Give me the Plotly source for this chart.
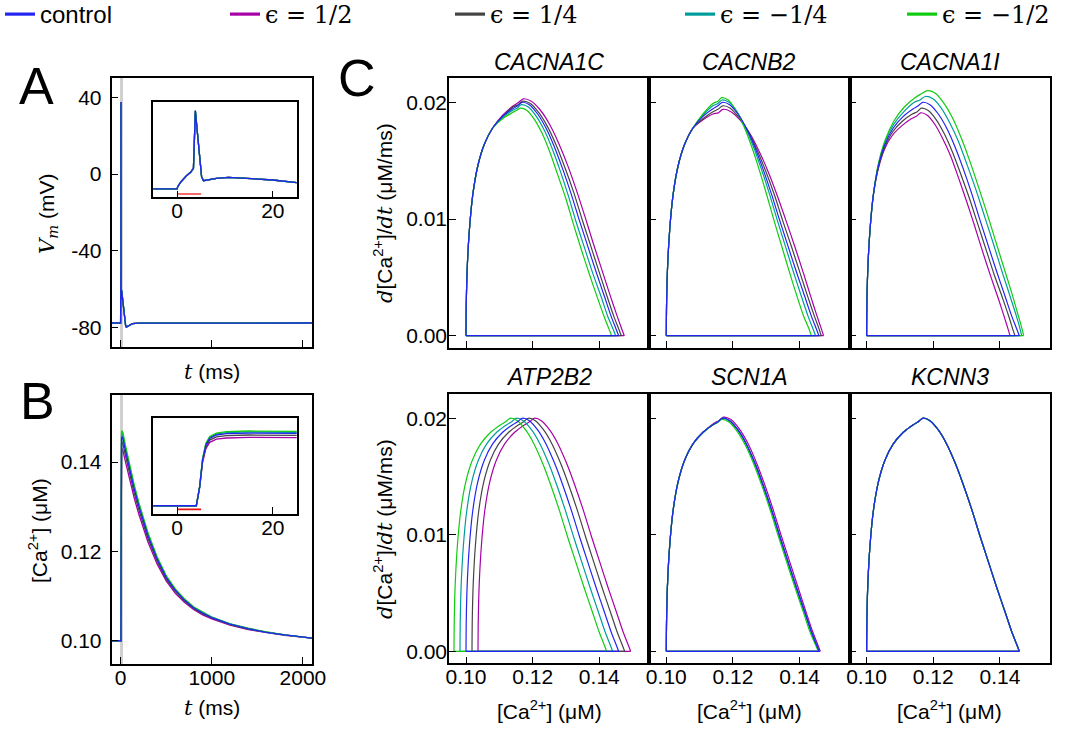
import plotly.graph_objects as go

W, H = 1078, 731

# ---------------- series ----------------
series_keys = ["half", "quarter", "mquarter", "mhalf", "control"]  # drawing order (control on top)
series_names = {
    "control": "control",
    "half": '<span style="font-family:DejaVu Serif">ϵ = 1/2</span>',
    "quarter": '<span style="font-family:DejaVu Serif">ϵ = 1/4</span>',
    "mquarter": '<span style="font-family:DejaVu Serif">ϵ = −1/4</span>',
    "mhalf": '<span style="font-family:DejaVu Serif">ϵ = −1/2</span>',
}
series_colors = {
    "control": "#2424f0",
    "half": "#a800a8",
    "quarter": "#444444",
    "mquarter": "#009c9c",
    "mhalf": "#10cc10",
}

# ---------------- panel A: membrane potential ----------------
volt_t = [-100, 0, 0.1, 0.8, 1.9, 2.9, 3.4, 3.8, 4.2, 4.55, 5.1, 5.5, 6.4, 8.2, 10.7, 14.5,
          20, 25, 35, 45, 55, 63, 80, 100, 130, 200, 1000, 2100]
volt_v = [-77.5, -77.5, -74.4, -67, -58.6, -52.3, -47.3, 37.5, 7, -20.3, -59.6, -65.5, -64.5, -62,
          -60.5, -62, -64.5, -68.5, -73, -76.5, -78.8, -79.6, -79.2, -78.5, -77.8, -77.6, -77.5, -77.5]

# ---------------- panel B: calcium concentration ----------------
ca_t = [-100, 0, 4, 4.7, 5.3, 6, 6.8, 8.2, 10.3, 15, 25, 50, 100, 150, 200, 250, 300, 400, 500,
        600, 700, 800, 900, 1000, 1200, 1400, 1600, 1800, 2000, 2100]
ca_control = [0.1000, 0.1000, 0.1000, 0.1120, 0.1287, 0.1382, 0.1424, 0.1445, 0.1453, 0.1457, 0.1453,
              0.1428, 0.1381, 0.1339, 0.1301, 0.1266, 0.1235, 0.1183, 0.1142, 0.1113, 0.1091, 0.1074,
              0.1062, 0.1052, 0.1037, 0.1027, 0.1019, 0.1013, 0.1008, 0.1006]
ca_half = [0.1000, 0.1000, 0.1000, 0.1113, 0.1270, 0.1359, 0.1399, 0.1419, 0.1426, 0.1430, 0.1426,
           0.1403, 0.1359, 0.1319, 0.1283, 0.1250, 0.1221, 0.1172, 0.1134, 0.1106, 0.1086, 0.1070,
           0.1058, 0.1049, 0.1035, 0.1025, 0.1018, 0.1012, 0.1008, 0.1006]
ca_quarter = [0.1000, 0.1000, 0.1000, 0.1117, 0.1280, 0.1372, 0.1413, 0.1433, 0.1441, 0.1445, 0.1441,
              0.1417, 0.1371, 0.1330, 0.1293, 0.1259, 0.1229, 0.1178, 0.1138, 0.1110, 0.1089, 0.1072,
              0.1060, 0.1051, 0.1036, 0.1026, 0.1019, 0.1013, 0.1008, 0.1006]
ca_mquarter = [0.1000, 0.1000, 0.1000, 0.1122, 0.1291, 0.1388, 0.1430, 0.1452, 0.1460, 0.1464, 0.1460,
               0.1434, 0.1387, 0.1344, 0.1306, 0.1270, 0.1239, 0.1186, 0.1144, 0.1115, 0.1092, 0.1075,
               0.1063, 0.1053, 0.1038, 0.1027, 0.1019, 0.1013, 0.1008, 0.1006]
ca_mhalf = [0.1000, 0.1000, 0.1000, 0.1123, 0.1295, 0.1393, 0.1436, 0.1457, 0.1466, 0.1470, 0.1466,
            0.1440, 0.1392, 0.1348, 0.1309, 0.1273, 0.1242, 0.1188, 0.1146, 0.1116, 0.1094, 0.1076,
            0.1064, 0.1053, 0.1038, 0.1028, 0.1020, 0.1013, 0.1008, 0.1006]
ca_series = {"control": ca_control, "half": ca_half, "quarter": ca_quarter,
             "mquarter": ca_mquarter, "mhalf": ca_mhalf}

stim_t = [0, 5]
stim_v = [-85, -85]
stim_ca = [0.0977, 0.0977]

# ---------------- panel C: phase plots (d[Ca]/dt vs [Ca]) ----------------
gene_titles = ["CACNA1C", "CACNB2", "CACNA1I", "ATP2B2", "SCN1A", "KCNN3"]

# shared rising branch (all series overlap here)
rise_x = [0.1000, 0.1001, 0.1004, 0.1010, 0.1020, 0.1035, 0.1055, 0.1080]
rise_y = [0.0000, 0.0030, 0.0060, 0.0090, 0.0120, 0.0145, 0.0164, 0.0178]

ctrl_fall_x = [0.1110, 0.1140, 0.1155, 0.1168, 0.1190, 0.1215, 0.1240, 0.1265, 0.1290, 0.1315, 0.1340,
               0.1365, 0.1390, 0.1415, 0.1435, 0.1450, 0.1458]
ctrl_fall_y = [0.0188, 0.01945, 0.0197, 0.0200, 0.0198, 0.0190, 0.0178, 0.0162, 0.0143, 0.0122, 0.0099,
               0.0077, 0.0055, 0.0034, 0.0017, 0.0006, 0.0000]

# CACNA1C
c1c_half_x = [0.1110, 0.1142, 0.1158, 0.1172, 0.1196, 0.1224, 0.1251, 0.1278, 0.1305, 0.1331, 0.1357,
              0.1382, 0.1407, 0.1432, 0.1452, 0.1467, 0.1475]
c1c_half_y = [0.0189, 0.0197, 0.0200, 0.0203, 0.0201, 0.0193, 0.0181, 0.0165, 0.0146, 0.0125, 0.0102,
              0.0079, 0.0057, 0.0035, 0.0018, 0.0006, 0.0000]
c1c_quarter_x = [0.1110, 0.1141, 0.1156, 0.1170, 0.1193, 0.1219, 0.1245, 0.1271, 0.1297, 0.1323, 0.1348,
                 0.1373, 0.1398, 0.1423, 0.1443, 0.1458, 0.1466]
c1c_quarter_y = [0.0188, 0.0196, 0.0198, 0.0201, 0.0199, 0.0191, 0.0179, 0.0163, 0.0144, 0.0123, 0.0100,
                 0.0078, 0.0056, 0.0034, 0.0017, 0.0006, 0.0000]
c1c_mquarter_x = [0.1110, 0.1139, 0.1153, 0.1166, 0.1187, 0.1211, 0.1235, 0.1259, 0.1283, 0.1307, 0.1331,
                  0.1356, 0.1381, 0.1406, 0.1426, 0.1441, 0.1449]
c1c_mquarter_y = [0.0187, 0.0193, 0.0195, 0.0198, 0.0196, 0.0188, 0.0176, 0.0160, 0.0141, 0.0120, 0.0097,
                  0.0075, 0.0053, 0.0033, 0.0016, 0.0006, 0.0000]
c1c_mhalf_x = [0.1110, 0.1138, 0.1151, 0.1163, 0.1183, 0.1206, 0.1229, 0.1252, 0.1275, 0.1299, 0.1323,
               0.1347, 0.1371, 0.1395, 0.1415, 0.1430, 0.1437]
c1c_mhalf_y = [0.0186, 0.0191, 0.0193, 0.0195, 0.0193, 0.0185, 0.0173, 0.0157, 0.0138, 0.0118, 0.0095,
               0.0073, 0.0052, 0.0032, 0.0016, 0.0005, 0.0000]

# CACNB2
cb2_half_x = [0.1110, 0.1140, 0.1156, 0.1170, 0.1194, 0.1221, 0.1249, 0.1277, 0.1305, 0.1333, 0.1360,
              0.1386, 0.1411, 0.1434, 0.1452, 0.1465, 0.1472]
cb2_half_y = [0.0185, 0.0190, 0.0191, 0.0194, 0.0192, 0.0185, 0.0174, 0.0159, 0.0141, 0.0120, 0.0098,
              0.0076, 0.0054, 0.0033, 0.0017, 0.0006, 0.0000]
cb2_quarter_x = [0.1110, 0.1140, 0.1155, 0.1169, 0.1192, 0.1218, 0.1244, 0.1271, 0.1297, 0.1324, 0.1350,
                 0.1376, 0.1401, 0.1425, 0.1444, 0.1458, 0.1465]
cb2_quarter_y = [0.0186, 0.0192, 0.0194, 0.0197, 0.0195, 0.0187, 0.0176, 0.0160, 0.0142, 0.0121, 0.0098,
                 0.0076, 0.0054, 0.0033, 0.0017, 0.0006, 0.0000]
cb2_mquarter_x = [0.1110, 0.1140, 0.1155, 0.1167, 0.1188, 0.1212, 0.1236, 0.1260, 0.1285, 0.1309, 0.1333,
                  0.1357, 0.1381, 0.1405, 0.1425, 0.1440, 0.1448]
cb2_mquarter_y = [0.0189, 0.0197, 0.0199, 0.0202, 0.0200, 0.0192, 0.0179, 0.0163, 0.0143, 0.0122, 0.0099,
                  0.0077, 0.0055, 0.0034, 0.0017, 0.0006, 0.0000]
cb2_mhalf_x = [0.1110, 0.1140, 0.1155, 0.1166, 0.1186, 0.1209, 0.1232, 0.1255, 0.1278, 0.1301, 0.1324,
               0.1347, 0.1370, 0.1393, 0.1413, 0.1428, 0.1435]
cb2_mhalf_y = [0.0190, 0.0199, 0.0201, 0.0204, 0.0202, 0.0193, 0.0180, 0.0163, 0.0143, 0.0121, 0.0098,
               0.0076, 0.0054, 0.0033, 0.0016, 0.0006, 0.0000]

# CACNA1I (series diverge from the 5th rising point on)
c1i_half_x = [0.1035, 0.1054, 0.1078, 0.1106, 0.1134, 0.1149, 0.1162, 0.1182, 0.1205, 0.1228, 0.1252,
              0.1276, 0.1300, 0.1324, 0.1348, 0.1372, 0.1396, 0.1414, 0.1425, 0.1430]
c1i_half_y = [0.0143, 0.0160, 0.0172, 0.0180, 0.0186, 0.0188, 0.0191, 0.0189, 0.0181, 0.0169, 0.0154,
              0.0135, 0.0115, 0.0094, 0.0072, 0.0051, 0.0031, 0.0015, 0.0005, 0.0000]
c1i_quarter_x = [0.1035, 0.1055, 0.1079, 0.1108, 0.1137, 0.1152, 0.1164, 0.1185, 0.1209, 0.1233, 0.1258,
                 0.1283, 0.1308, 0.1333, 0.1358, 0.1383, 0.1408, 0.1427, 0.1439, 0.1445]
c1i_quarter_y = [0.0144, 0.0162, 0.0175, 0.0184, 0.0190, 0.0192, 0.0195, 0.0193, 0.0185, 0.0173, 0.0157,
                 0.0138, 0.0118, 0.0096, 0.0074, 0.0052, 0.0032, 0.0016, 0.0005, 0.0000]
c1i_mquarter_x = [0.1035, 0.1055, 0.1081, 0.1112, 0.1143, 0.1160, 0.1176, 0.1199, 0.1224, 0.1250, 0.1276,
                  0.1302, 0.1328, 0.1354, 0.1380, 0.1405, 0.1430, 0.1449, 0.1460, 0.1465]
c1i_mquarter_y = [0.0146, 0.0166, 0.0181, 0.0192, 0.0200, 0.0202, 0.0205, 0.0203, 0.0195, 0.0182, 0.0166,
                  0.0146, 0.0125, 0.0102, 0.0079, 0.0056, 0.0034, 0.0017, 0.0006, 0.0000]
c1i_mhalf_x = [0.1035, 0.1056, 0.1082, 0.1113, 0.1145, 0.1162, 0.1182, 0.1205, 0.1230, 0.1257, 0.1283,
               0.1309, 0.1335, 0.1361, 0.1387, 0.1412, 0.1437, 0.1455, 0.1466, 0.1471]
c1i_mhalf_y = [0.0147, 0.0168, 0.0184, 0.0196, 0.0204, 0.0207, 0.0210, 0.0208, 0.0200, 0.0187, 0.0170,
               0.0150, 0.0128, 0.0105, 0.0081, 0.0058, 0.0035, 0.0017, 0.0006, 0.0000]

# ATP2B2 (whole loop shifted along [Ca2+]; same heights as control)
atp_half_x = [0.1036, 0.1037, 0.1040, 0.1046, 0.1056, 0.1071, 0.1091, 0.1116, 0.1146, 0.1176, 0.1191,
              0.1204, 0.1226, 0.1251, 0.1276, 0.1301, 0.1326, 0.1351, 0.1376, 0.1401, 0.1426, 0.1451,
              0.1471, 0.1486, 0.1494]
atp_quarter_x = [0.1018, 0.1019, 0.1022, 0.1028, 0.1038, 0.1053, 0.1073, 0.1098, 0.1128, 0.1158, 0.1173,
                 0.1186, 0.1208, 0.1233, 0.1258, 0.1283, 0.1308, 0.1333, 0.1358, 0.1383, 0.1408, 0.1433,
                 0.1453, 0.1468, 0.1476]
atp_mquarter_x = [0.0982, 0.0983, 0.0986, 0.0992, 0.1002, 0.1017, 0.1037, 0.1062, 0.1092, 0.1122, 0.1137,
                  0.1150, 0.1172, 0.1197, 0.1222, 0.1247, 0.1272, 0.1297, 0.1322, 0.1347, 0.1372, 0.1397,
                  0.1417, 0.1432, 0.1440]
atp_mhalf_x = [0.0964, 0.0965, 0.0968, 0.0974, 0.0984, 0.0999, 0.1019, 0.1044, 0.1074, 0.1104, 0.1119,
               0.1132, 0.1154, 0.1179, 0.1204, 0.1229, 0.1254, 0.1279, 0.1304, 0.1329, 0.1354, 0.1379,
               0.1399, 0.1414, 0.1422]

# SCN1A (nearly identical)
scn_half_x = [0.1111, 0.1142, 0.1158, 0.1171, 0.1194, 0.1219, 0.1244, 0.1269, 0.1294, 0.1319, 0.1344,
              0.1369, 0.1394, 0.1419, 0.1439, 0.1454, 0.1462]
scn_half_y = [0.0188, 0.01955, 0.0198, 0.0201, 0.0199, 0.0191, 0.0179, 0.0163, 0.0144, 0.0123, 0.0100,
              0.0078, 0.0056, 0.0034, 0.0017, 0.0006, 0.0000]
scn_mhalf_x = [0.1109, 0.1138, 0.1152, 0.1165, 0.1187, 0.1212, 0.1237, 0.1262, 0.1287, 0.1312, 0.1337,
               0.1362, 0.1387, 0.1412, 0.1432, 0.1447, 0.1456]
scn_mhalf_y = [0.0187, 0.0194, 0.0196, 0.0199, 0.0197, 0.0189, 0.0177, 0.0161, 0.0142, 0.0121, 0.0098,
               0.0076, 0.0054, 0.0033, 0.0016, 0.0006, 0.0000]

ctrl_x = rise_x + ctrl_fall_x
ctrl_y = rise_y + ctrl_fall_y

phase_data = [
    {  # CACNA1C
        "control": (ctrl_x, ctrl_y),
        "half": (rise_x + c1c_half_x, rise_y + c1c_half_y),
        "quarter": (rise_x + c1c_quarter_x, rise_y + c1c_quarter_y),
        "mquarter": (rise_x + c1c_mquarter_x, rise_y + c1c_mquarter_y),
        "mhalf": (rise_x + c1c_mhalf_x, rise_y + c1c_mhalf_y),
    },
    {  # CACNB2
        "control": (ctrl_x, ctrl_y),
        "half": (rise_x + cb2_half_x, rise_y + cb2_half_y),
        "quarter": (rise_x + cb2_quarter_x, rise_y + cb2_quarter_y),
        "mquarter": (rise_x + cb2_mquarter_x, rise_y + cb2_mquarter_y),
        "mhalf": (rise_x + cb2_mhalf_x, rise_y + cb2_mhalf_y),
    },
    {  # CACNA1I
        "control": (ctrl_x, ctrl_y),
        "half": (rise_x[:5] + c1i_half_x, rise_y[:5] + c1i_half_y),
        "quarter": (rise_x[:5] + c1i_quarter_x, rise_y[:5] + c1i_quarter_y),
        "mquarter": (rise_x[:5] + c1i_mquarter_x, rise_y[:5] + c1i_mquarter_y),
        "mhalf": (rise_x[:5] + c1i_mhalf_x, rise_y[:5] + c1i_mhalf_y),
    },
    {  # ATP2B2
        "control": (ctrl_x, ctrl_y),
        "half": (atp_half_x, ctrl_y),
        "quarter": (atp_quarter_x, ctrl_y),
        "mquarter": (atp_mquarter_x, ctrl_y),
        "mhalf": (atp_mhalf_x, ctrl_y),
    },
    {  # SCN1A
        "control": (ctrl_x, ctrl_y),
        "half": (rise_x + scn_half_x, rise_y + scn_half_y),
        "quarter": (ctrl_x, ctrl_y),
        "mquarter": (ctrl_x, ctrl_y),
        "mhalf": (rise_x + scn_mhalf_x, rise_y + scn_mhalf_y),
    },
    {  # KCNN3
        "control": (ctrl_x, ctrl_y),
        "half": (ctrl_x, ctrl_y),
        "quarter": (ctrl_x, ctrl_y),
        "mquarter": (ctrl_x, ctrl_y),
        "mhalf": (ctrl_x, ctrl_y),
    },
]

# ---------------- layout helpers (pixel -> paper) ----------------
def px(v):
    return v / W


def py(v):
    return 1 - v / H


TICKFONT = dict(family="Liberation Sans, Arial, sans-serif", size=21, color="black")
AX = dict(showline=True, linecolor="black", linewidth=1.6, mirror=True, ticks="inside", ticklen=7,
          tickwidth=1.4, tickcolor="black", showgrid=False, zeroline=False, tickfont=TICKFONT)
XAX = dict(AX, ticklabelstandoff=-6)
YAX = dict(AX, ticklabelstandoff=4)
YAXC = dict(AX, ticklabelstandoff=-4)

fig = go.Figure()
LW = 1.3

# ---- A main + inset
for k in series_keys:
    for xa, ya in (("x", "y"), ("x2", "y2")):
        fig.add_trace(go.Scatter(x=volt_t, y=volt_v, mode="lines", xaxis=xa, yaxis=ya,
                                 line=dict(color=series_colors[k], width=LW), showlegend=False,
                                 hoverinfo="skip"))
fig.add_trace(go.Scatter(x=stim_t, y=stim_v, mode="lines", xaxis="x2", yaxis="y2",
                         line=dict(color="rgba(240,70,70,0.8)", width=2), showlegend=False))

# ---- B main + inset
for k in series_keys:
    for xa, ya in (("x3", "y3"), ("x4", "y4")):
        fig.add_trace(go.Scatter(x=ca_t, y=ca_series[k], mode="lines", xaxis=xa, yaxis=ya,
                                 line=dict(color=series_colors[k], width=LW), showlegend=False,
                                 hoverinfo="skip"))
fig.add_trace(go.Scatter(x=stim_t, y=stim_ca, mode="lines", xaxis="x4", yaxis="y4",
                         line=dict(color="#e81010", width=1.6), showlegend=False))

# ---- C phase plots
for i, pdata in enumerate(phase_data):
    n = i + 5
    for k in series_keys:
        xs, ys = pdata[k]
        xx = list(xs) + [None, xs[-1], xs[0]]
        yy = list(ys) + [None, 0.0, 0.0]
        fig.add_trace(go.Scatter(x=xx, y=yy, mode="lines", xaxis=f"x{n}", yaxis=f"y{n}",
                                 line=dict(color=series_colors[k], width=1.2, shape="spline", smoothing=0.8),
                                 connectgaps=False, showlegend=False, hoverinfo="skip"))

# ---- legend entries (thicker sample lines)
legend_order = ["control", "half", "quarter", "mquarter", "mhalf"]
legend_ref = ["legend", "legend", "legend", "legend2", "legend3"]
for r, k in enumerate(legend_order):
    fig.add_trace(go.Scatter(x=[None], y=[None], mode="lines", name=series_names[k],
                             line=dict(color=series_colors[k], width=3.2), xaxis="x", yaxis="y",
                             legend=legend_ref[r], legendrank=r + 1, showlegend=True))

# ---------------- axes ----------------
layout = {}
# A main
layout["xaxis"] = dict(XAX, domain=[px(111.5), px(312)], range=[-100, 2100], tickvals=[0, 1000, 2000],
                       showticklabels=False, anchor="y")
layout["yaxis"] = dict(YAX, domain=[py(347), py(78)], range=[-90, 50], tickvals=[-80, -40, 0, 40],
                       ticktext=["-80", "-40", "0", "40"], anchor="x")
# A inset
layout["xaxis2"] = dict(XAX, domain=[px(153.3), px(296.7)], range=[-5, 25], tickvals=[0, 20], anchor="y2")
layout["yaxis2"] = dict(YAX, domain=[py(197.3), py(102.3)], range=[-90, 50], ticks="", showticklabels=False,
                        anchor="x2")
# B main
layout["xaxis3"] = dict(XAX, domain=[px(111.5), px(312)], range=[-100, 2100], tickvals=[0, 1000, 2000],
                        anchor="y3")
layout["yaxis3"] = dict(YAX, domain=[py(664), py(395)], range=[0.0948, 0.155], tickvals=[0.10, 0.12, 0.14],
                        tickformat=".2f", anchor="x3")
# B inset
layout["xaxis4"] = dict(XAX, domain=[px(153.3), px(296.7)], range=[-5, 25], tickvals=[0, 20], anchor="y4")
layout["yaxis4"] = dict(YAX, domain=[py(514), py(418.3)], range=[0.0948, 0.155], ticks="",
                        showticklabels=False, anchor="x4")

col_px = [(449, 649.3), (649.3, 849.6), (849.6, 1050)]
row_px = [(78.3, 347.7), (394.3, 663.3)]
for i in range(6):
    n = i + 5
    r, c = divmod(i, 3)
    layout[f"xaxis{n}"] = dict(XAX, domain=[px(col_px[c][0]), px(col_px[c][1])], range=[0.0949, 0.1550],
                               tickvals=[0.10, 0.12, 0.14], tickformat=".2f", showticklabels=(r == 1),
                               anchor=f"y{n}")
    layout[f"yaxis{n}"] = dict(YAXC, domain=[py(row_px[r][1]), py(row_px[r][0])], range=[-0.00103, 0.02206],
                               tickvals=[0.0, 0.01, 0.02], tickformat=".2f", showticklabels=(c == 0),
                               anchor=f"x{n}")

fig.update_layout(**layout)

# gray band marking the inset window
for xr, yr in (("x", "y"), ("x3", "y3")):
    fig.add_shape(type="rect", xref=xr, yref=f"{yr} domain", x0=-5, x1=25, y0=0, y1=1,
                  fillcolor="#cccccc", line=dict(width=0), layer="below")

# ---------------- annotations ----------------
ann = []
SERIF = "DejaVu Serif"
LBL = dict(family="Liberation Sans, Arial, sans-serif", size=21, color="black")


def add_text(x, y, text, size=21, angle=0, family=None):
    f = dict(LBL, size=size)
    if family:
        f["family"] = family
    ann.append(dict(x=px(x), y=py(y), xref="paper", yref="paper", text=text, showarrow=False,
                    font=f, textangle=angle, xanchor="center", yanchor="middle"))


# panel letters
add_text(36, 86, "A", size=52)
add_text(37, 401, "B", size=52)
add_text(357, 78, "C", size=52)

# axis titles
t_title = f'<span style="font-family:{SERIF}"><i>t</i></span> (ms)'
add_text(212, 372, t_title)
add_text(212, 708, t_title)
add_text(48, 214, f'<span style="font-family:{SERIF}"><i>V<sub>m</sub></i></span> (mV)', angle=-90)
add_text(38, 531, "[Ca<sup>2+</sup>] (μM)", angle=-90)
dca = (f'<span style="font-family:{SERIF}"><i>d</i></span>[Ca<sup>2+</sup>]/'
       f'<span style="font-family:{SERIF}"><i>dt</i></span> (μM/ms)')
add_text(383, 213, dca, angle=-90)
add_text(383, 529, dca, angle=-90)
for c in range(3):
    cx = (col_px[c][0] + col_px[c][1]) / 2
    add_text(cx, 710, "[Ca<sup>2+</sup>] (μM)")

# gene titles
for i, g in enumerate(gene_titles):
    r, c = divmod(i, 3)
    cx = (col_px[c][0] + col_px[c][1]) / 2
    cy = 62 if r == 0 else 377
    add_text(cx, cy, f"<i>{g}</i>", size=23)

LEG = dict(orientation="h", y=1.0 + 8 / H, xanchor="left", yanchor="top",
           font=dict(size=24, color="black"), bgcolor="rgba(0,0,0,0)", traceorder="normal")
fig.update_layout(
    annotations=ann,
    width=W, height=H, autosize=False,
    margin=dict(l=0, r=0, t=0, b=0, autoexpand=False),
    paper_bgcolor="white", plot_bgcolor="white",
    font=dict(family="Liberation Sans, Arial, sans-serif", color="black"),
    legend=dict(LEG, x=0.0, entrywidth=180, entrywidthmode="pixels"),
    legend2=dict(LEG, x=px(680)),
    legend3=dict(LEG, x=px(902)),
)

fig.write_html("out.html", config={"displayModeBar": False},
               post_script="document.body.style.margin='0px';document.body.style.padding='0px';")
